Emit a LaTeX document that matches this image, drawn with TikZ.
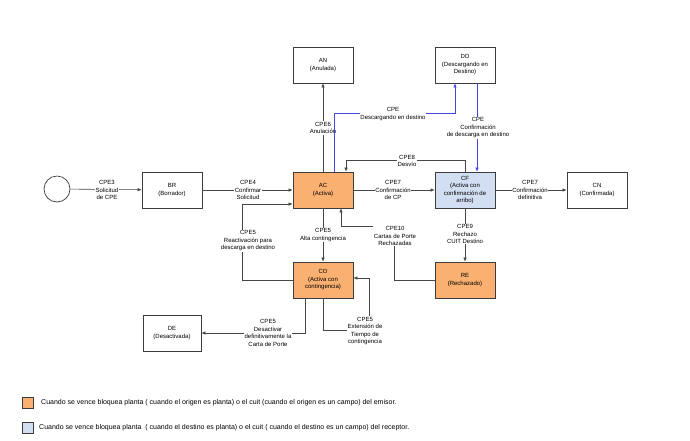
\documentclass[tikz,border=0pt]{standalone}
\usepackage{fontspec}
\setmainfont{Liberation Sans}
\usetikzlibrary{arrows.meta,calc}
\definecolor{naranja}{RGB}{250,176,112}
\definecolor{celeste}{RGB}{210,222,242}
\definecolor{borde}{RGB}{60,60,60}
\definecolor{linea}{RGB}{70,70,70}
\definecolor{azul}{RGB}{70,70,225}

\begin{document}
\begin{tikzpicture}[x=1pt,y=-1pt,
  font=\fontsize{6}{7.5}\selectfont,
  est/.style={draw=borde,fill=white,line width=0.7pt,align=center,
              minimum width=60pt,minimum height=36pt,inner sep=1pt},
  emi/.style={est,fill=naranja},
  rec/.style={est,fill=celeste},
  lbl/.style={fill=white,align=center,inner sep=0.8pt},
  ref/.style={anchor=west,inner sep=0pt,font=\fontsize{7}{8}\selectfont},
  ln/.style={-{Latex[length=4pt,width=3.5pt]},draw=linea,line width=0.6pt},
  bl/.style={-{Latex[length=4pt,width=3.5pt]},draw=azul,line width=0.6pt}]

\useasboundingbox (0,0) rectangle (690,440);

\node[circle,draw=borde,line width=0.7pt,minimum size=26pt,inner sep=0pt] (st) at (57,189) {};
\node[est] (br) at (172,190) {BR\\(Borrador)};
\node[emi] (ac) at (323,190) {AC\\(Activa)};
\node[rec] (cf) at (465,190) {CF\\(Activa con\\confirmación de\\arribo)};
\node[est] (cn) at (597,190) {CN\\(Confirmada)};
\node[est] (an) at (323,65) {AN\\(Anulada)};
\node[est] (dd) at (465,65) {DD\\(Descargando en\\Destino)};
\node[emi] (co) at (323,280) {CO\\(Activa con\\contingencia)};
\node[emi] (re) at (465,280) {RE\\(Rechazado)};
\node[est,minimum width=58pt] (de) at (172,333) {DE\\(Desactivada)};

\coordinate (ka) at ($(ac.north)+(11,0)$);
\coordinate (kb) at ($(dd.south)+(-10,30)$);

\draw[ln] (st) -- (br);
\draw[ln] (br) -- (ac);
\draw[ln] (ac) -- (cf);
\draw[ln] (cf) -- (cn);
\draw[ln] (ac) -- (an);
\draw[bl] (ka |- kb) -- (kb) -- ($(dd.south)+(-10,0)$);
\draw[bl] ($(dd.south)+(12,0)$) -- ($(cf.north)+(12,0)$);
\draw[ln] (cf.north) -- ++(0,-11) -| ($(ac.north)+(23,0)$);
\draw[ln] (ac) -- (co);
\draw[ln] (co.west) -- ++(-50,0) |- ($(ac.west)+(0,14)$);
\draw[ln] (re.west) -- ++(-40,0) |- ($(ac.south)+(18,18)$) -- ($(ac.south)+(18,0)$);
\draw[ln] (cf) -- (re);
\draw[ln] ($(co.south)+(-18,0)$) |- (de.east);
\draw[ln] (co.south) -- ++(0,32) -- ++(46,0) |- ($(co.east)+(0,-2)$);

\node[lbl] (l1) at (107,190) {CPE3\\Solicitud\\de CPE};
\node[lbl] (l2) at (248,190) {CPE4\\Confirmar\\Solicitud};
\node[lbl] (l3) at (393,190) {CPE7\\Confirmación\\de CP};
\node[lbl] (l4) at (530,190) {CPE7\\Confirmación\\definitiva};
\node[lbl] (l5) at (323,128) {CPE6\\Anulación};
\node[lbl] (l6) at (393,114) {CPE\\Descargando en destino};
\node[lbl] (l7) at (478,128) {CPE\\Confirmación\\de descarga en destino};
\node[lbl] (l8) at (407,161) {CPE8\\Desvío};
\node[lbl] (l9) at (323,235) {CPE5\\Alta contingencia};
\node[lbl] (l10) at (248,241) {CPE5\\Reactivación para\\descarga en destino};
\node[lbl] (l11) at (395,236) {CPE10\\Cartas de Porte\\Rechazadas};
\node[lbl] (l12) at (465,234) {CPE9\\Rechazo\\CUIT Destino};
\node[lbl] (l13) at (268,333) {CPE5\\Desactivar\\definitivamente la\\Carta de Porte};
\node[lbl] (l14) at (365,331) {CPE5\\Extensión de\\Tiempo de\\contingencia};

% tramo azul por encima de la etiqueta CPE6
\draw[bl,-] (ka) -- (ka |- kb);

% referencias
\node[draw=borde,fill=naranja,minimum size=11pt,inner sep=0pt] (ra) at (27.5,402.5) {};
\node[draw=borde,fill=celeste,minimum size=11pt,inner sep=0pt] (rb) at (27.5,428) {};
\node[ref] (ta) at (41,403) {Cuando se vence bloquea planta ( cuando el origen es planta) o el cuit (cuando el origen es un campo) del emisor.};
\node[ref] (tb) at (39,428) {Cuando se vence bloquea planta \ ( cuando el destino es planta) o el cuit ( cuando el destino es un campo) del receptor.};
\end{tikzpicture}
\end{document}
